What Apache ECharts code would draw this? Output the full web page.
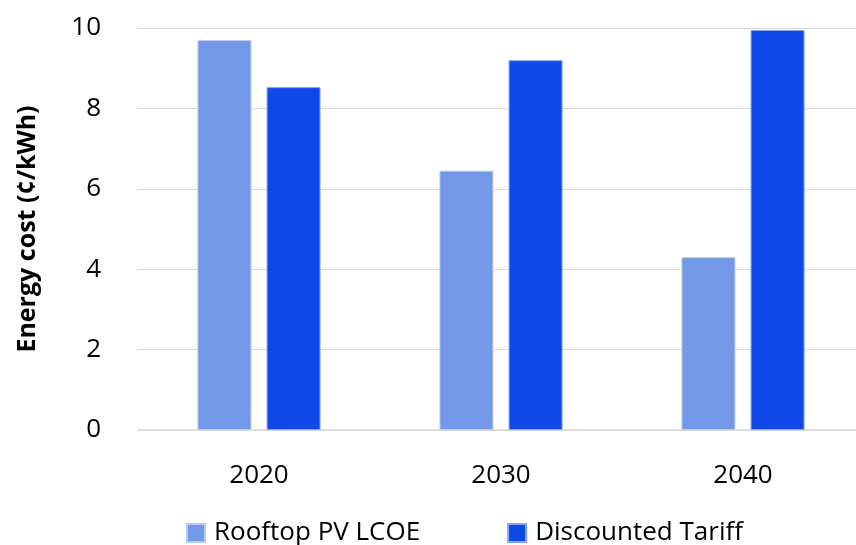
<!DOCTYPE html>
<html>
<head>
<meta charset="utf-8">
<script src="https://cdn.jsdelivr.net/npm/echarts@6/dist/echarts.min.js"></script>
<style>
  html, body { margin: 0; padding: 0; background: #fff; overflow: hidden; }
  #chart { width: 880px; height: 545px; }
</style>
</head>
<body>
<div id="chart"></div>
<script>
const years = ["2020", "2030", "2040"];
const rooftopLcoe = [9.7, 6.45, 4.3];
const discountedTariff = [8.53, 9.2, 9.95];

const font = "'Open Sans', sans-serif";
const chart = echarts.init(document.getElementById("chart"));

chart.setOption({
  animation: false,
  textStyle: { fontFamily: font },
  grid: { left: 138, top: 28, width: 726, height: 402 },
  legend: {
    left: 181,
    top: 515,
    itemWidth: 18,
    itemHeight: 18,
    itemGap: 87,
    icon: "rect",
    textStyle: { fontSize: 26, color: "#000", fontFamily: font, padding: [0, 0, 0, 4] },
    data: ["Rooftop PV LCOE", "Discounted Tariff"]
  },
  xAxis: {
    type: "category",
    data: years,
    axisTick: { show: false },
    axisLine: { lineStyle: { color: "#d9d9d9", width: 1.5 } },
    axisLabel: { fontSize: 26, color: "#000", margin: 33 }
  },
  yAxis: {
    type: "value",
    min: 0,
    max: 10,
    interval: 2,
    name: "Energy cost (¢/kWh)",
    nameLocation: "middle",
    nameGap: 98,
    nameTextStyle: { fontSize: 25, fontWeight: "bold", color: "#000", fontFamily: font },
    axisLine: { show: false },
    axisTick: { show: false },
    axisLabel: { fontSize: 26, color: "#000", margin: 37 },
    splitLine: { lineStyle: { color: "#d9d9d9", width: 1.2 } }
  },
  series: [
    {
      name: "Rooftop PV LCOE",
      type: "bar",
      data: rooftopLcoe,
      barWidth: 54,
      barGap: "28%",
      itemStyle: { color: "#7398e7", borderColor: "#b9cbf4", borderWidth: 1 }
    },
    {
      name: "Discounted Tariff",
      type: "bar",
      data: discountedTariff,
      barWidth: 54,
      itemStyle: { color: "#0f4ae9", borderColor: "#87a4f3", borderWidth: 1 }
    }
  ]
});
</script>
</body>
</html>
